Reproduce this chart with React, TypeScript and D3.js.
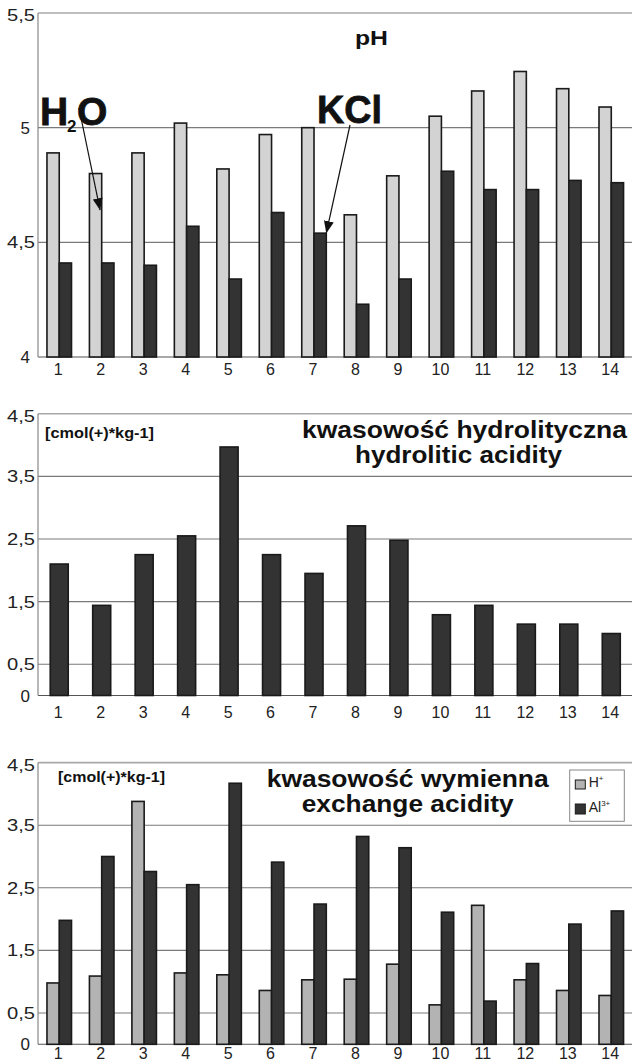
import React from "react";
import * as d3 from "d3";

const categories = ["1", "2", "3", "4", "5", "6", "7", "8", "9", "10", "11", "12", "13", "14"];
const phH2O = [4.89, 4.8, 4.89, 5.02, 4.82, 4.97, 5.0, 4.62, 4.79, 5.05, 5.16, 5.245, 5.17, 5.09];
const phKCl = [4.41, 4.41, 4.4, 4.57, 4.34, 4.63, 4.54, 4.23, 4.34, 4.81, 4.73, 4.73, 4.77, 4.76];
const hydrolytic = [2.1, 1.44, 2.25, 2.55, 3.97, 2.25, 1.95, 2.71, 2.48, 1.29, 1.44, 1.14, 1.14, 0.99];
const exchH = [0.98, 1.09, 3.88, 1.14, 1.11, 0.86, 1.03, 1.04, 1.28, 0.63, 2.22, 1.03, 0.86, 0.78];
const exchAl = [1.98, 3.0, 2.76, 2.55, 4.17, 2.91, 2.24, 3.32, 3.14, 2.11, 0.69, 1.29, 1.92, 2.13];
const phTicks = [4, 4.5, 5, 5.5];
const acidTicks = [0, 0.5, 1.5, 2.5, 3.5, 4.5];
const pairKeys = ["a", "b"];

const FONT = "'Liberation Sans', Arial, Helvetica, sans-serif";
const W = 632;
const H = 1064;
const LEFT = 38;
const RIGHT = 632.5;

const fmt = (v: number) => String(v).replace(".", ",");

const x = d3.scaleBand<string>().domain(categories).range([LEFT, RIGHT]).padding(0);
const xPair = d3
  .scaleBand<string>()
  .domain(pairKeys)
  .range([0, x.bandwidth()])
  .paddingInner(0)
  .paddingOuter(0.73);
const xSingle = d3
  .scaleBand<string>()
  .domain(categories)
  .range([LEFT, RIGHT])
  .paddingInner(0.576)
  .paddingOuter(0.288);

const yPh = d3.scaleLinear().domain([4, 5.5]).range([357, 13]);
const yHyd = d3.scaleLinear().domain([0, 4.5]).range([695.5, 413.8]);
const yEx = d3.scaleLinear().domain([0, 4.5]).range([1044.3, 762.6]);

const BAR_STROKE = "#1a1a1a";
const DARK = "#333333";
const LIGHT_TOP = "#d3d3d3";
const LIGHT_BOT = "#b3b3b3";

function Frame({
  y,
  ticks,
  labelGap,
}: {
  y: d3.ScaleLinear<number, number>;
  ticks: number[];
  labelGap: number;
}) {
  const [d0, d1] = y.domain();
  return (
    <g>
      {ticks.map((t) => {
        const yy = y(t);
        const isTop = t === d1;
        const isBottom = t === d0;
        return (
          <line
            key={"g" + t}
            x1={LEFT}
            x2={W}
            y1={yy}
            y2={yy}
            stroke={isTop ? "#a8a8a8" : isBottom ? "#555" : "#7a7a7a"}
            strokeWidth={isTop ? 1.6 : 1.1}
          />
        );
      })}
      <line x1={LEFT} x2={LEFT} y1={y(d1)} y2={y(d0)} stroke="#888" strokeWidth={1.2} />
      {ticks.map((t) => {
        const yy = y(t);
        const isTop = t === d1;
        const label = fmt(t);
        const hasComma = label.includes(",");
        return (
          <text
            key={"l" + t}
            x={hasComma ? 35 : 30}
            y={isTop ? yy + 8 : yy + 6}
            textAnchor="end"
            fontSize={17}
            fill="#222"
            fontFamily={FONT}
            {...(hasComma ? { textLength: 28, lengthAdjust: "spacingAndGlyphs" } : {})}
          >
            {label}
          </text>
        );
      })}
      {categories.map((c) => (
        <text
          key={"x" + c}
          x={(x(c) as number) + x.bandwidth() / 2 - 1}
          y={Math.min(y(d0) + labelGap, H - 5)}
          textAnchor="middle"
          fontSize={16}
          fill="#222"
          fontFamily={FONT}
        >
          {c}
        </text>
      ))}
    </g>
  );
}

function PairBars({
  y,
  a,
  b,
  colorA,
  colorB,
}: {
  y: d3.ScaleLinear<number, number>;
  a: number[];
  b: number[];
  colorA: string;
  colorB: string;
}) {
  const base = y(y.domain()[0]);
  return (
    <g>
      {categories.map((c, i) => {
        const cx = x(c) as number;
        const xa = cx + (xPair("a") as number);
        const xb = cx + (xPair("b") as number);
        const w = xPair.bandwidth();
        return (
          <g key={c}>
            <rect x={xa} y={y(a[i])} width={w} height={base - y(a[i])} fill={colorA} stroke={BAR_STROKE} strokeWidth={1.6} />
            <rect x={xb} y={y(b[i])} width={w} height={base - y(b[i])} fill={colorB} stroke={BAR_STROKE} strokeWidth={1.6} />
          </g>
        );
      })}
    </g>
  );
}

export default function App() {
  const base = yHyd(0);
  // annotation anchors derived from data
  const h2oTipX = (x("2") as number) + (xPair("a") as number) + xPair.bandwidth() * 0.87;
  const h2oTipY = yPh(4.64);
  const kclTipX = (x("7") as number) + (xPair("b") as number) + xPair.bandwidth();
  const kclTipY = yPh(phKCl[6]);

  return (
    <svg
      width={W}
      height={H}
      viewBox={`0 0 ${W} ${H}`}
      style={{ position: "absolute", left: 0, top: 0, background: "#fff" }}
      fontFamily={FONT}
    >
      <defs>
        <marker id="arr" viewBox="0 0 12 10" refX="12" refY="5" markerWidth="12" markerHeight="10" markerUnits="userSpaceOnUse" orient="auto">
          <path d="M0,0 L12,5 L0,10 Z" fill="#111" />
        </marker>
      </defs>
      <rect x={0} y={0} width={W} height={H} fill="#fff" />

      {/* ---------- pH chart ---------- */}
      <Frame y={yPh} ticks={phTicks} labelGap={18} />
      <PairBars y={yPh} a={phH2O} b={phKCl} colorA={LIGHT_TOP} colorB={DARK} />
      <text x={371.5} y={45} textAnchor="middle" fontSize={20} fontWeight="bold" fill="#111" textLength={33} lengthAdjust="spacingAndGlyphs">
        pH
      </text>
      <text x={40} y={125} fontSize={39} fontWeight="bold" fill="#111" stroke="#111" strokeWidth={0.8}>
        H
      </text>
      <text x={67} y={132} fontSize={17} fontWeight="bold" fill="#111">
        2
      </text>
      <text x={77} y={125} fontSize={39} fontWeight="bold" fill="#111" stroke="#111" strokeWidth={0.8}>
        O
      </text>
      <line x1={79} y1={108} x2={h2oTipX} y2={h2oTipY} stroke="#111" strokeWidth={1.2} markerEnd="url(#arr)" />
      <text x={317} y={123} fontSize={39} fontWeight="bold" fill="#111" stroke="#111" strokeWidth={0.8} textLength={65} lengthAdjust="spacingAndGlyphs">
        KCl
      </text>
      <line x1={350} y1={125} x2={kclTipX} y2={kclTipY} stroke="#111" strokeWidth={1.2} markerEnd="url(#arr)" />

      {/* ---------- hydrolytic acidity ---------- */}
      <Frame y={yHyd} ticks={acidTicks} labelGap={22.5} />
      {categories.map((c, i) => (
        <rect
          key={c}
          x={xSingle(c) as number}
          y={yHyd(hydrolytic[i])}
          width={xSingle.bandwidth()}
          height={base - yHyd(hydrolytic[i])}
          fill={DARK}
          stroke={BAR_STROKE}
          strokeWidth={1.6}
        />
      ))}
      <text x={45} y={438} fontSize={15} fontWeight="bold" fill="#111" textLength={109} lengthAdjust="spacingAndGlyphs">
        [cmol(+)*kg-1]
      </text>
      <text x={464.5} y={438} textAnchor="middle" fontSize={23} fontWeight="bold" fill="#111" textLength={325} lengthAdjust="spacingAndGlyphs">
        kwasowość hydrolityczna
      </text>
      <text x={458.5} y={463} textAnchor="middle" fontSize={23} fontWeight="bold" fill="#111" textLength={207} lengthAdjust="spacingAndGlyphs">
        hydrolitic acidity
      </text>

      {/* ---------- exchange acidity ---------- */}
      <Frame y={yEx} ticks={acidTicks} labelGap={22} />
      <PairBars y={yEx} a={exchH} b={exchAl} colorA={LIGHT_BOT} colorB={DARK} />
      <text x={58} y={782} fontSize={15} fontWeight="bold" fill="#111" textLength={107} lengthAdjust="spacingAndGlyphs">
        [cmol(+)*kg-1]
      </text>
      <text x={407.7} y={787} textAnchor="middle" fontSize={23} fontWeight="bold" fill="#111" textLength={282} lengthAdjust="spacingAndGlyphs">
        kwasowość wymienna
      </text>
      <text x={407.7} y={812} textAnchor="middle" fontSize={23} fontWeight="bold" fill="#111" textLength={212} lengthAdjust="spacingAndGlyphs">
        exchange acidity
      </text>
      {/* legend */}
      <g>
        <rect x={569.7} y={770} width={54.6} height={51.3} fill="#fff" stroke="#888" strokeWidth={1} />
        <rect x={575.3} y={780} width={10} height={9} fill={LIGHT_BOT} stroke={BAR_STROKE} strokeWidth={1} />
        <text x={588.7} y={787} fontSize={14} fill="#222">
          H<tspan dy={-6} fontSize={8}>+</tspan>
        </text>
        <rect x={575.3} y={804} width={10} height={10} fill={DARK} stroke={BAR_STROKE} strokeWidth={1} />
        <text x={588.7} y={812} fontSize={14} fill="#222">
          Al<tspan dy={-6} fontSize={8}>3+</tspan>
        </text>
      </g>
    </svg>
  );
}
